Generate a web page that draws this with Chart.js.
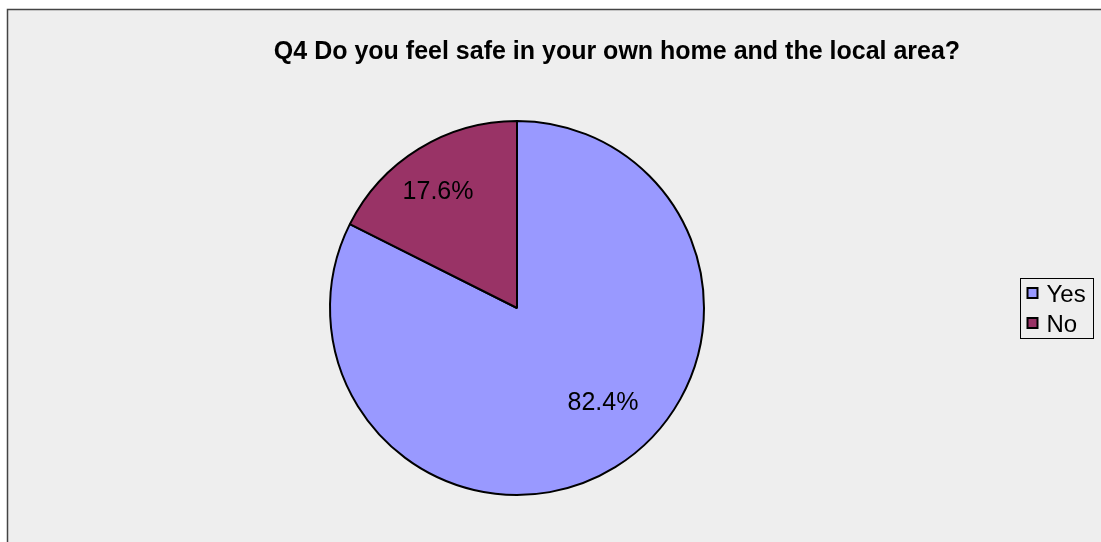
<!DOCTYPE html>
<html>
<head>
<meta charset="utf-8">
<title>Q4 Do you feel safe</title>
<script src="https://cdn.jsdelivr.net/npm/chart.js@4/dist/chart.umd.min.js"></script>
<style>
  html, body { margin: 0; padding: 0; background: #fff; }
  #wrap { width: 1101px; height: 542px; position: relative; }
</style>
</head>
<body>
<div id="wrap"><canvas id="pie"></canvas></div>
<script>
// Survey answers, percent of respondents
const answers = ['Yes', 'No'];
const shares  = [82.4, 17.6];
const sliceColors = ['#9999ff', '#993366'];
const chartTitle = 'Q4 Do you feel safe in your own home and the local area?';

const FONT = '"Liberation Sans", Arial, Helvetica, sans-serif';

// panel background, frame lines and title
const framePlugin = {
  id: 'frame',
  beforeDraw(chart) {
    const ctx = chart.ctx;
    ctx.save();
    ctx.fillStyle = '#ffffff';
    ctx.fillRect(0, 0, chart.width, chart.height);
    ctx.fillStyle = '#eeeeee';
    ctx.fillRect(8, 10, chart.width - 8, chart.height - 10);
    ctx.strokeStyle = '#444444';
    ctx.lineWidth = 1.5;
    ctx.beginPath();
    ctx.moveTo(7.5, chart.height);
    ctx.lineTo(7.5, 9.5);
    ctx.lineTo(chart.width, 9.5);
    ctx.stroke();

    ctx.fillStyle = '#000';
    ctx.font = 'bold 25px ' + FONT;
    ctx.textAlign = 'center';
    ctx.textBaseline = 'alphabetic';
    ctx.fillText(chartTitle, 617, 58.5);
    ctx.restore();
  }
};

// percentage labels inside each slice (angle nudge, radius fraction)
const labelPlace = [[-0.18, 0.687], [-0.045, 0.75]];
const sliceLabels = {
  id: 'sliceLabels',
  afterDatasetsDraw(chart) {
    const ctx = chart.ctx;
    const meta = chart.getDatasetMeta(0);
    ctx.save();
    ctx.fillStyle = '#000';
    ctx.font = '25px ' + FONT;
    ctx.textAlign = 'center';
    ctx.textBaseline = 'middle';
    meta.data.forEach(function (arc, i) {
      const mid = (arc.startAngle + arc.endAngle) / 2 + labelPlace[i][0];
      const r = arc.outerRadius * labelPlace[i][1];
      const x = arc.x + Math.cos(mid) * r;
      const y = arc.y + Math.sin(mid) * r;
      ctx.fillText(shares[i].toFixed(1) + '%', x, y);
    });
    ctx.restore();
  }
};

// boxed legend on the right
const boxLegend = {
  id: 'boxLegend',
  afterDraw(chart) {
    const ctx = chart.ctx;
    const left = 1020.5, top = 278.5, w = 73, h = 60;
    ctx.save();
    ctx.strokeStyle = '#000';
    ctx.lineWidth = 1;
    ctx.strokeRect(left, top, w, h);
    ctx.font = '24px ' + FONT;
    ctx.textBaseline = 'alphabetic';
    ctx.textAlign = 'left';
    answers.forEach(function (label, i) {
      const base = top + 23.5 + i * 30;
      ctx.fillStyle = sliceColors[i];
      ctx.fillRect(left + 7, base - 14, 10, 10);
      ctx.strokeStyle = '#000';
      ctx.lineWidth = 2;
      ctx.strokeRect(left + 7, base - 14, 10, 10);
      ctx.fillStyle = '#000';
      ctx.fillText(label, left + 26, base);
    });
    ctx.restore();
  }
};

new Chart(document.getElementById('pie'), {
  type: 'pie',
  data: {
    labels: answers,
    datasets: [{
      data: shares,
      backgroundColor: sliceColors,
      borderColor: '#000',
      borderWidth: 2,
      borderAlign: 'center'
    }]
  },
  options: {
    responsive: true,
    maintainAspectRatio: false,
    animation: false,
    layout: { padding: { left: 329, right: 396, top: 120, bottom: 46 } },
    plugins: {
      legend: { display: false },
      title: { display: false },
      tooltip: { enabled: false }
    }
  },
  plugins: [framePlugin, sliceLabels, boxLegend]
});
</script>
</body>
</html>
